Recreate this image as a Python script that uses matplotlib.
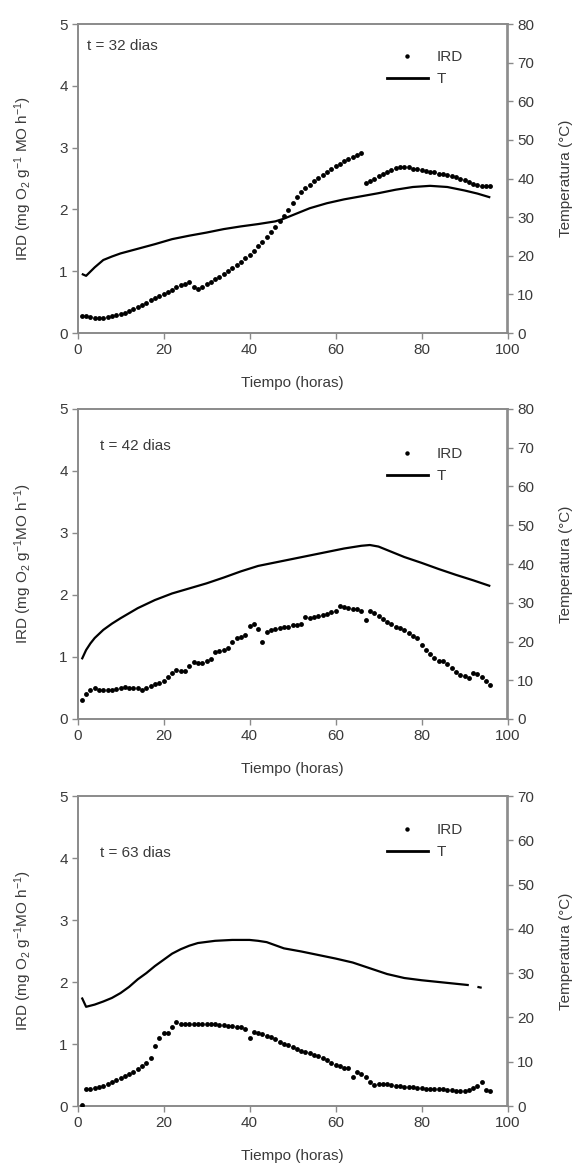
import numpy as np
import matplotlib
matplotlib.use("Agg")
import matplotlib.pyplot as plt
from matplotlib.lines import Line2D

plt.rcParams["font.family"] = ["Liberation Sans", "DejaVu Sans"]
plt.rcParams["mathtext.fontset"] = "custom"
plt.rcParams["mathtext.rm"] = "Liberation Sans"
plt.rcParams["mathtext.it"] = "Liberation Sans:italic"
plt.rcParams["mathtext.default"] = "regular"

# ---------------- data ----------------
# Panel 1: t = 32 dias
ird1_h = list(range(1, 97))
ird1 = [0.27, 0.27, 0.26, 0.25, 0.25, 0.25, 0.26, 0.27, 0.29, 0.31,
        0.33, 0.36, 0.39, 0.42, 0.46, 0.49, 0.53, 0.56, 0.60, 0.63,
        0.67, 0.70, 0.74, 0.77, 0.80, 0.83, 0.74, 0.72, 0.75, 0.79,
        0.83, 0.87, 0.91, 0.95, 1.00, 1.05, 1.10, 1.15, 1.21, 1.27,
        1.33, 1.40, 1.47, 1.55, 1.63, 1.72, 1.82, 1.90, 1.99, 2.10,
        2.20, 2.28, 2.34, 2.40, 2.46, 2.51, 2.56, 2.61, 2.66, 2.71,
        2.74, 2.78, 2.81, 2.85, 2.88, 2.92,
        2.42, 2.46, 2.50, 2.54, 2.58, 2.61, 2.64, 2.67, 2.69, 2.69,
        2.68, 2.66, 2.65, 2.63, 2.62, 2.61, 2.60, 2.58, 2.57, 2.56,
        2.54, 2.52, 2.50, 2.47, 2.44, 2.41, 2.39, 2.38, 2.38, 2.38]
t1_h = [1, 2, 4, 6, 8, 10, 14, 18, 22, 26, 30, 34, 38, 42, 46, 48, 50,
        54, 58, 62, 66, 70, 74, 78, 82, 86, 90, 93, 96]
t1 = [15.3, 14.8, 17.0, 18.9, 19.8, 20.6, 21.8, 23.0, 24.3, 25.2, 26.0,
      26.9, 27.6, 28.2, 28.9, 29.6, 30.5, 32.3, 33.6, 34.6, 35.4, 36.2,
      37.1, 37.8, 38.1, 37.8, 36.9, 36.1, 35.1]

# Panel 2: t = 42 dias
ird2_h = list(range(1, 97))
ird2 = [0.30, 0.40, 0.47, 0.50, 0.47, 0.46, 0.46, 0.47, 0.48, 0.50,
        0.51, 0.50, 0.50, 0.50, 0.46, 0.50, 0.54, 0.56, 0.58, 0.62,
        0.67, 0.74, 0.79, 0.77, 0.78, 0.86, 0.92, 0.90, 0.91, 0.94,
        0.97, 1.08, 1.10, 1.12, 1.15, 1.24, 1.30, 1.32, 1.35, 1.50,
        1.54, 1.45, 1.25, 1.41, 1.43, 1.45, 1.46, 1.48, 1.49, 1.51,
        1.52, 1.54, 1.65, 1.63, 1.64, 1.66, 1.68, 1.70, 1.72, 1.75,
        1.82, 1.80, 1.79, 1.78, 1.77, 1.74, 1.60, 1.75, 1.71, 1.66,
        1.61, 1.57, 1.53, 1.49, 1.46, 1.43, 1.39, 1.34, 1.30, 1.20,
        1.12, 1.05, 0.98, 0.94, 0.93, 0.89, 0.83, 0.76, 0.71, 0.69,
        0.66, 0.75, 0.72, 0.68, 0.62, 0.55]
t2_h = [1, 2, 3, 4, 6, 8, 10, 14, 18, 22, 26, 30, 34, 38, 42, 46, 50,
        54, 58, 62, 66, 68, 70, 72, 76, 80, 84, 88, 92, 96]
t2 = [15.4, 17.8, 19.5, 20.9, 23.0, 24.6, 26.0, 28.6, 30.7, 32.4, 33.7,
      35.0, 36.5, 38.1, 39.5, 40.4, 41.3, 42.2, 43.1, 44.0, 44.7, 44.9,
      44.5, 43.6, 41.8, 40.3, 38.7, 37.2, 35.8, 34.3]

# Panel 3: t = 63 dias
ird3_h = list(range(1, 97))
ird3 = [0.02, 0.27, 0.28, 0.29, 0.31, 0.32, 0.35, 0.38, 0.42, 0.45,
        0.48, 0.52, 0.55, 0.59, 0.64, 0.70, 0.78, 0.96, 1.09, 1.18,
        1.17, 1.27, 1.36, 1.33, 1.32, 1.33, 1.33, 1.33, 1.33, 1.33,
        1.32, 1.32, 1.31, 1.30, 1.29, 1.29, 1.28, 1.27, 1.25, 1.09,
        1.20, 1.18, 1.16, 1.13, 1.11, 1.08, 1.04, 1.00, 0.98, 0.95,
        0.92, 0.89, 0.87, 0.85, 0.83, 0.81, 0.77, 0.74, 0.70, 0.66,
        0.64, 0.62, 0.61, 0.47, 0.55, 0.52, 0.46, 0.38, 0.34, 0.35,
        0.35, 0.35, 0.34, 0.33, 0.32, 0.31, 0.30, 0.30, 0.29, 0.29,
        0.28, 0.28, 0.27, 0.27, 0.27, 0.26, 0.26, 0.25, 0.25, 0.25,
        0.26, 0.29, 0.33, 0.39, 0.26, 0.25]
t3_h = [1, 2, 4, 6, 8, 10, 12, 14, 16, 18, 20, 22, 24, 26, 28, 32, 36,
        40, 42, 44, 46, 48, 52, 56, 60, 64, 68, 72, 76, 80, 84, 88, 91,
        92, 93, 94]
t3 = [24.5, 22.4, 22.9, 23.6, 24.4, 25.5, 26.9, 28.6, 30.0, 31.6, 33.0,
      34.4, 35.4, 36.2, 36.8, 37.3, 37.5, 37.5, 37.3, 37.0, 36.3, 35.6,
      34.9, 34.1, 33.3, 32.4, 31.1, 29.8, 28.9, 28.4, 28.0, 27.6, 27.3,
      np.nan, 26.9, 26.7]

titles = ["t = 32 dias", "t = 42 dias", "t = 63 dias"]
ylabels = ["IRD (mg O$_2$ g$^{-1}$ MO h$^{-1}$)",
           "IRD (mg O$_2$ g$^{-1}$MO h$^{-1}$)",
           "IRD (mg O$_2$ g$^{-1}$MO h$^{-1}$)"]
temp_max = [80, 80, 70]
x_ticks = [0, 20, 40, 60, 80, 100]
ird_ticks = [0, 1, 2, 3, 4, 5]

panels = [(ird1_h, ird1, t1_h, t1), (ird2_h, ird2, t2_h, t2),
          (ird3_h, ird3, t3_h, t3)]

# ---------------- layout ----------------
W, H = 579, 1171
fig = plt.figure(figsize=(W / 100, H / 100), dpi=100)
fig.patch.set_facecolor("white")

left_px, right_px = 77.5, 507.5
tops = [24, 409, 796]
bottoms = [333, 719, 1106]
title_pos = [(86.7, 46), (100, 446), (100, 853)]
legend_top = [50, 447, 823]

spine_col = "#8a8a8a"
text_col = "#3a3a3a"
fs = 11

for i, (ih, iv, th, tv) in enumerate(panels):
    ax = fig.add_axes([left_px / W, 1 - bottoms[i] / H,
                       (right_px - left_px) / W, (bottoms[i] - tops[i]) / H])
    ax2 = ax.twinx()

    ax.plot(ih, iv, linestyle="none", marker="o", markersize=3.5,
            markeredgewidth=0, color="black", zorder=3)
    ax2.plot(th, tv, color="black", lw=1.6, solid_capstyle="butt")

    ax.set_xlim(0, 100)
    ax.set_ylim(0, 5)
    ax2.set_ylim(0, temp_max[i])
    ax.set_xticks(x_ticks)
    ax.set_yticks(ird_ticks)
    ax2.set_yticks(range(0, temp_max[i] + 1, 10))

    for a in (ax, ax2):
        for s in a.spines.values():
            s.set_color(spine_col)
            s.set_linewidth(1.2)
        a.tick_params(direction="out", length=4, width=1, color=spine_col,
                      labelcolor=text_col, labelsize=fs, pad=3)

    ax.set_xlabel("Tiempo (horas)", fontsize=fs, color=text_col, labelpad=14)
    ax.set_ylabel(ylabels[i], fontsize=fs, color=text_col, labelpad=18)
    ax2.set_ylabel("Temperatura (°C)", fontsize=fs, color=text_col,
                   labelpad=18)

    tx, ty = title_pos[i]
    fig.text(tx / W, 1 - ty / H, titles[i], fontsize=fs, color=text_col,
             ha="left", va="center")

    handles = [Line2D([], [], linestyle="none", marker="o", markersize=3.2,
                      markeredgewidth=0, color="black"),
               Line2D([], [], color="black", lw=2)]
    leg = ax.legend(handles, ["IRD", "T"], loc="upper left",
                    bbox_to_anchor=((386.7 - left_px) / (right_px - left_px),
                                    (bottoms[i] - legend_top[i]) /
                                    (bottoms[i] - tops[i])),
                    frameon=False, fontsize=fs, handlelength=2.7,
                    handletextpad=0.6, labelspacing=0.55, borderpad=0,
                    borderaxespad=0)
    for t in leg.get_texts():
        t.set_color(text_col)
    ax.set_zorder(ax2.get_zorder() + 1)
    ax.patch.set_visible(False)

fig.savefig("out.png", dpi=100, facecolor="white")
